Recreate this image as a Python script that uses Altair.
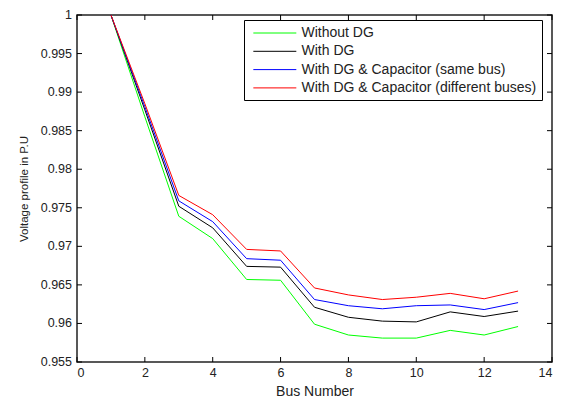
import altair as alt
import pandas as pd

buses = list(range(1, 14))
series_names = [
    "Without DG",
    "With DG",
    "With DG & Capacitor (same bus)",
    "With DG & Capacitor (different buses)",
]
series_colors = ["#00ff00", "#000000", "#0000ff", "#ff0000"]

without_dg = [1.0, 0.9868, 0.9739, 0.9710, 0.9657, 0.9656, 0.9599, 0.9585, 0.9581, 0.9581, 0.9591, 0.9585, 0.9596]
with_dg = [1.0, 0.9877, 0.9752, 0.9724, 0.9674, 0.9673, 0.9621, 0.9608, 0.9603, 0.9602, 0.9615, 0.9609, 0.9616]
with_dg_cap_same = [1.0, 0.9881, 0.9759, 0.9732, 0.9684, 0.9682, 0.9631, 0.9623, 0.9619, 0.9623, 0.9624, 0.9618, 0.9627]
with_dg_cap_diff = [1.0, 0.9885, 0.9766, 0.9741, 0.9696, 0.9694, 0.9646, 0.9637, 0.9631, 0.9634, 0.9639, 0.9632, 0.9642]

x_ticks = [0, 2, 4, 6, 8, 10, 12, 14]
y_ticks = [0.955, 0.96, 0.965, 0.97, 0.975, 0.98, 0.985, 0.99, 0.995, 1.0]
y_tick_labels = ["0.955", "0.96", "0.965", "0.97", "0.975", "0.98", "0.985", "0.99", "0.995", "1"]

rows = []
for i, (name, vals) in enumerate(zip(series_names, [without_dg, with_dg, with_dg_cap_same, with_dg_cap_diff])):
    for b, v in zip(buses, vals):
        rows.append({"Bus": b, "Voltage": v, "Series": name, "k": i})
df = pd.DataFrame(rows)

W, H = 475, 347
FONT = "Liberation Sans"
TXT = "#222222"

xscale = alt.Scale(domain=[0, 14], nice=False, zero=False)
yscale = alt.Scale(domain=[0.955, 1.0], nice=False, zero=False)

S = 14.33  # legend symbol unit
lines = alt.Chart(df).mark_line(strokeWidth=1, clip=True).encode(
    x=alt.X("Bus:Q", scale=xscale,
            axis=alt.Axis(values=x_ticks, title="Bus Number", ticks=False, grid=False,
                          labelPadding=4, titlePadding=6, domain=False,
                          labelFont=FONT, labelFontSize=12.5, labelColor=TXT,
                          titleFont=FONT, titleFontSize=14, titleFontWeight="normal",
                          titleColor=TXT, labelOverlap=False)),
    y=alt.Y("Voltage:Q", scale=yscale,
            axis=alt.Axis(values=y_ticks, title="Voltage profile in P.U", ticks=False, grid=False,
                          labels=False, titlePadding=48, domain=False,
                          titleFont=FONT, titleFontSize=11.5, titleFontWeight="normal",
                          titleColor=TXT)),
    color=alt.Color("Series:N",
                    scale=alt.Scale(domain=series_names, range=series_colors),
                    legend=alt.Legend(title=None, orient="none", legendX=167, legendY=5,
                                      strokeColor="black", fillColor="white",
                                      padding=5, symbolSize=S * S,
                                      symbolType="M-3,0H3", symbolStrokeWidth=1,
                                      symbolOffset=S - 0.5 + 4, labelOffset=2 * S + 5 + 3 - 18,
                                      labelFontSize=14, labelFont=FONT, labelLimit=400,
                                      labelColor=TXT, rowPadding=3.3)),
    detail="k:Q",
)

xt = pd.DataFrame({"t": x_ticks})
yt = pd.DataFrame({"t": y_ticks, "lab": y_tick_labels})

xb = alt.Chart(xt).mark_rule(color="black", strokeWidth=1).encode(
    x=alt.X("t:Q", scale=xscale), y=alt.value(H), y2=alt.value(H - 5))
xtop = alt.Chart(xt).mark_rule(color="black", strokeWidth=1).encode(
    x=alt.X("t:Q", scale=xscale), y=alt.value(0), y2=alt.value(5))
yl = alt.Chart(yt).mark_rule(color="black", strokeWidth=1).encode(
    y=alt.Y("t:Q", scale=yscale), x=alt.value(0), x2=alt.value(5))
yr = alt.Chart(yt).mark_rule(color="black", strokeWidth=1).encode(
    y=alt.Y("t:Q", scale=yscale), x=alt.value(W - 5), x2=alt.value(W))
ylab = alt.Chart(yt).mark_text(align="right", baseline="middle", font=FONT,
                               fontSize=12.5, color=TXT, clip=False).encode(
    y=alt.Y("t:Q", scale=yscale), x=alt.value(-5), text="lab:N")

chart = alt.layer(xb, xtop, yl, yr, ylab, lines).properties(
    width=W, height=H,
    background="white",
    autosize=alt.AutoSizeParams(type="none"),
    padding={"left": 69, "top": 7, "right": 3, "bottom": 45},
).configure_view(
    stroke="#222222", strokeWidth=1.5
)

chart.save("out.html", embed_options={"renderer": "svg", "actions": False})
